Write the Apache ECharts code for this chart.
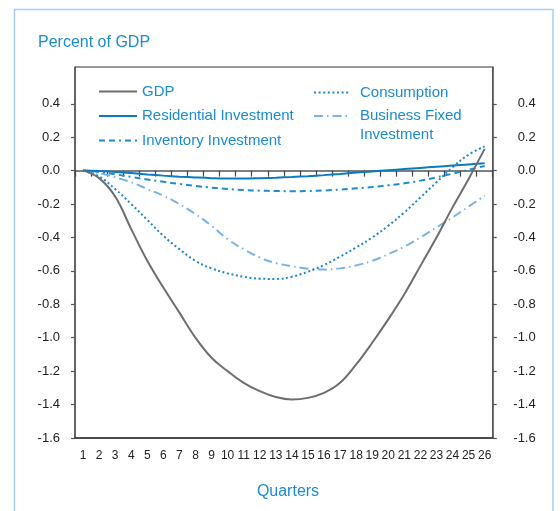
<!DOCTYPE html>
<html>
<head>
<meta charset="utf-8">
<script src="https://cdn.jsdelivr.net/npm/echarts@6/dist/echarts.min.js"></script>
<style>html,body{margin:0;padding:0;background:#fff;}#c{width:560px;height:511px;}</style>
</head>
<body>
<div id="c"></div>
<script>
var quarters = ['1','2','3','4','5','6','7','8','9','10','11','12','13','14','15','16','17','18','19','20','21','22','23','24','25','26'];
var gdp = [0, -0.045, -0.155, -0.35, -0.54, -0.70, -0.85, -1.0, -1.12, -1.2, -1.27, -1.32, -1.355, -1.37, -1.36, -1.33, -1.27, -1.16, -1.03, -0.89, -0.74, -0.57, -0.40, -0.22, -0.05, 0.13];
var residential = [0, -0.002, -0.008, -0.015, -0.023, -0.03, -0.036, -0.041, -0.045, -0.047, -0.047, -0.045, -0.042, -0.038, -0.033, -0.027, -0.02, -0.012, -0.005, 0.002, 0.009, 0.016, 0.023, 0.03, 0.037, 0.044];
var inventory = [0, -0.008, -0.022, -0.038, -0.053, -0.067, -0.08, -0.092, -0.102, -0.11, -0.116, -0.12, -0.122, -0.123, -0.122, -0.119, -0.113, -0.106, -0.098, -0.088, -0.076, -0.06, -0.04, -0.018, 0.005, 0.028];
var consumption = [0, -0.035, -0.11, -0.2, -0.295, -0.39, -0.47, -0.54, -0.585, -0.615, -0.635, -0.647, -0.648, -0.635, -0.605, -0.565, -0.515, -0.46, -0.4, -0.33, -0.25, -0.16, -0.07, 0.02, 0.095, 0.145];
var business = [0, -0.015, -0.04, -0.07, -0.11, -0.15, -0.2, -0.26, -0.33, -0.41, -0.47, -0.52, -0.553, -0.572, -0.587, -0.592, -0.585, -0.567, -0.54, -0.5, -0.455, -0.4, -0.34, -0.28, -0.215, -0.15];
var yTicks = [-1.6, -1.4, -1.2, -1.0, -0.8, -0.6, -0.4, -0.2, 0, 0.2, 0.4];

var blueText = '#1b8bd2';
var font = 'Liberation Sans, Arial, sans-serif';
var chart = echarts.init(document.getElementById('c'), null, {renderer: 'canvas'});

function yAxis(pos) {
  return {
    type: 'value', position: pos, min: -1.6, max: 0.62,
    splitLine: {show: false},
    axisLine: {show: true, lineStyle: {color: '#555', width: 1.5}},
    axisTick: {show: true, customValues: yTicks, length: 4, lineStyle: {color: '#555', width: 1.2}},
    axisLabel: {
      customValues: yTicks, color: '#222', fontSize: 13, fontFamily: font,
      margin: pos === 'left' ? 15 : 43, align: 'right',
      formatter: function (v) { return v.toFixed(1); }
    }
  };
}

var legendText = {color: blueText, fontSize: 15, fontFamily: font};

var option = {
  animation: false,
  backgroundColor: '#fff',
  graphic: [{
    type: 'rect', shape: {x: 14.5, y: 9.5, width: 538.5, height: 520},
    style: {fill: 'none', stroke: '#a9cdee', lineWidth: 1.5}, silent: true
  }],
  title: [
    {text: 'Percent of GDP', left: 33, top: 30, textStyle: {color: blueText, fontSize: 16, fontWeight: 'normal', fontFamily: font}},
    {text: 'Quarters', left: 283, textAlign: 'center', top: 479, textStyle: {color: blueText, fontSize: 16, fontWeight: 'normal', fontFamily: font}}
  ],
  grid: {left: 75, right: 67.3, top: 67, bottom: 73, show: true, borderColor: '#333', borderWidth: 1, backgroundColor: 'transparent'},
  legend: [
    {
      data: ['GDP', 'Residential Investment', 'Inventory Investment'],
      orient: 'vertical', left: 98, top: 84, padding: 0, itemGap: 9.5,
      itemWidth: 38, itemHeight: 15,
      itemStyle: {opacity: 0},
      textStyle: legendText
    },
    {
      data: ['Consumption', 'Business Fixed Investment'],
      orient: 'vertical', left: 313, top: 83, padding: 0, itemGap: -14.5,
      itemWidth: 35, itemHeight: 15,
      itemStyle: {opacity: 0},
      formatter: function (name) {
        return name === 'Business Fixed Investment' ? ' \nBusiness Fixed\nInvestment' : name;
      },
      textStyle: {color: blueText, fontSize: 15, lineHeight: 19, fontFamily: font, padding: [0, 0, 0, 6]}
    }
  ],
  xAxis: [
    {
      type: 'category', data: quarters, position: 'bottom', boundaryGap: true,
      axisLine: {onZero: false, lineStyle: {color: '#333', width: 1.5}},
      axisTick: {show: false},
      axisLabel: {color: '#222', fontSize: 12, fontFamily: font, margin: 12, interval: 0}
    },
    {
      type: 'category', data: quarters, position: 'top', boundaryGap: true,
      axisLine: {onZero: true, lineStyle: {color: '#555', width: 1.5}},
      axisTick: {show: true, inside: true, length: 6, interval: 0, lineStyle: {color: '#444', width: 1.2}},
      axisLabel: {show: false}
    }
  ],
  yAxis: [yAxis('left'), yAxis('right')],
  series: [
    {name: 'GDP', type: 'line', data: gdp, symbol: 'none', smooth: 0.4,
     lineStyle: {color: '#6d6e70', width: 2}, itemStyle: {color: '#6d6e70'}, z: 5},
    {name: 'Residential Investment', type: 'line', data: residential, symbol: 'none', smooth: 0.4,
     lineStyle: {color: '#0a7bc2', width: 2}, itemStyle: {color: '#0a7bc2'}, z: 4},
    {name: 'Inventory Investment', type: 'line', data: inventory, symbol: 'none', smooth: 0.4,
     lineStyle: {color: '#1d8bd1', width: 2, type: [6, 4, 6, 4, 2, 4]}, itemStyle: {color: '#1d8bd1'}, z: 3},
    {name: 'Consumption', type: 'line', data: consumption, symbol: 'none', smooth: 0.4,
     lineStyle: {color: '#1a87cf', width: 2, type: [2, 2.6]}, itemStyle: {color: '#1a87cf'}, z: 3},
    {name: 'Business Fixed Investment', type: 'line', data: business, symbol: 'none', smooth: 0.4,
     lineStyle: {color: '#7ab4e3', width: 2, type: [9, 4, 1.5, 4]}, itemStyle: {color: '#7ab4e3'}, z: 2}
  ]
};
chart.setOption(option);
</script>
</body>
</html>
